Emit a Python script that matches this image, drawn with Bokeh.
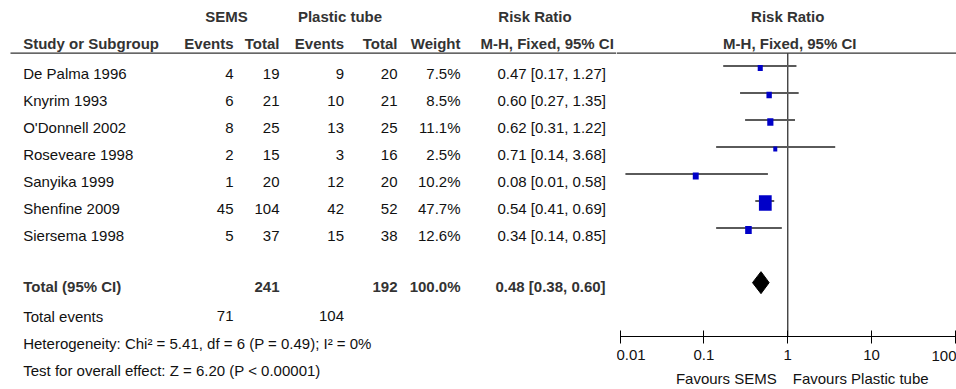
import math
from bokeh.plotting import figure
from bokeh.layouts import row
from bokeh.models import Range1d, FixedTicker
from bokeh.embed import file_html
from bokeh.resources import INLINE
from bokeh.core.properties import value

# ---------------- data ----------------
studies = ["De Palma 1996", "Knyrim 1993", "O'Donnell 2002", "Roseveare 1998",
           "Sanyika 1999", "Shenfine 2009", "Siersema 1998"]
sems_events = [4, 6, 8, 2, 1, 45, 5]
sems_total = [19, 21, 25, 15, 20, 104, 37]
pt_events = [9, 10, 13, 3, 12, 42, 15]
pt_total = [20, 21, 25, 16, 20, 52, 38]
weights = [7.5, 8.5, 11.1, 2.5, 10.2, 47.7, 12.6]
rr = [0.47, 0.60, 0.62, 0.71, 0.08, 0.54, 0.34]
ci_lo = [0.17, 0.27, 0.31, 0.14, 0.0116, 0.41, 0.14]
ci_hi = [1.27, 1.35, 1.22, 3.68, 0.58, 0.69, 0.85]

tot_sems_total = 241
tot_pt_total = 192
tot_weight = 100.0
tot_rr, tot_lo, tot_hi = 0.48, 0.38, 0.60
tot_sems_events = 71
tot_pt_events = 104
chi2, df, p_het, i2 = 5.41, 6, 0.49, 0
z_val = 6.20

tick_values = [0.01, 0.1, 1, 10, 100]
tick_labels = ["0.01", "0.1", "1", "10", "100"]

# ---------------- layout constants ----------------
FONT = "Liberation Sans"
FS = "15px"
C_TXT = "#111111"
C_BOLD = "#333333"
ROW = 27.0          # px per study row
Y0 = 67.5           # px of first marker row
H = 389
W_LEFT = 616
W_RIGHT = 340


def r_of(px):
    return (px - Y0) / ROW


TXT_OFF = 5.5 / ROW
n = len(studies)
mark_r = [float(i) for i in range(n)]
text_r = [i + TXT_OFF for i in range(n)]
line_r = [i - 2.0 / ROW for i in range(n)]
hdr1_r = r_of(16)
hdr2_r = r_of(43.3)
rule_r = r_of(52.7)
tot_mark_r = 7.95
tot_text_r = r_of(286)
ev_r = r_of(315.5)
het_r = r_of(342.7)
test_r = r_of(370)
axis_r = r_of(336)
tick_lab_r = r_of(355.5)
fav_r = r_of(378)


def txt(fig, x, y, texts, align="left", bold=False, x_offset=0):
    fig.text(x=x, y=y, text=texts, text_align=align, text_baseline="middle",
             text_font=value(FONT), text_font_size=FS, x_offset=x_offset,
             text_font_style="bold" if bold else "normal",
             text_color=C_BOLD if bold else C_TXT)


# ---------------- left: table ----------------
left = figure(width=W_LEFT, height=H, x_range=Range1d(0, W_LEFT),
              y_range=Range1d(r_of(H), r_of(0)),
              toolbar_location=None, output_backend="svg", min_border=0,
              x_axis_location=None, y_axis_location=None)
left.grid.visible = False
left.outline_line_color = None

X_STUDY, X_SE, X_ST, X_PE, X_PT, X_W, X_CI = 22.7, 233, 279, 343.5, 397, 460, 497

# header row 1
txt(left, [226], [hdr1_r], ["SEMS"], "center", True)
txt(left, [339.5], [hdr1_r], ["Plastic tube"], "center", True)
txt(left, [534.5], [hdr1_r], ["Risk Ratio"], "center", True)
# header row 2
txt(left, [X_STUDY], [hdr2_r], ["Study or Subgroup"], "left", True)
txt(left, [X_SE, X_ST, X_PE, X_PT, X_W], [hdr2_r] * 5,
    ["Events", "Total", "Events", "Total", "Weight"], "right", True)
txt(left, [480], [hdr2_r], ["M-H, Fixed, 95% CI"], "left", True)
left.segment(x0=[10], x1=[W_LEFT], y0=[rule_r], y1=[rule_r], line_color="#333333", line_width=1.3)

# study rows
txt(left, [X_STUDY] * n, text_r, studies, "left")
txt(left, [X_SE] * n, text_r, [str(v) for v in sems_events], "right")
txt(left, [X_ST] * n, text_r, [str(v) for v in sems_total], "right")
txt(left, [X_PE] * n, text_r, [str(v) for v in pt_events], "right")
txt(left, [X_PT] * n, text_r, [str(v) for v in pt_total], "right")
txt(left, [X_W] * n, text_r, [f"{w:.1f}%" for w in weights], "right")
txt(left, [X_CI] * n, text_r,
    [f"{a:.2f} [{b:.2f}, {c:.2f}]" for a, b, c in zip(rr, ci_lo, ci_hi)], "left")

# total row
txt(left, [X_STUDY], [tot_text_r], ["Total (95% CI)"], "left", True)
txt(left, [X_ST, X_PT, X_W], [tot_text_r] * 3,
    [str(tot_sems_total), str(tot_pt_total), f"{tot_weight:.1f}%"], "right", True)
txt(left, [495], [tot_text_r], [f"{tot_rr:.2f} [{tot_lo:.2f}, {tot_hi:.2f}]"], "left", True)

txt(left, [X_STUDY], [ev_r], ["Total events"], "left")
txt(left, [X_SE, X_PE], [ev_r] * 2, [str(tot_sems_events), str(tot_pt_events)], "right")
txt(left, [X_STUDY], [het_r],
    [f"Heterogeneity: Chi\u00b2 = {chi2:.2f}, df = {df} (P = {p_het:.2f}); I\u00b2 = {i2}%"], "left")
txt(left, [X_STUDY], [test_r],
    [f"Test for overall effect: Z = {z_val:.2f} (P < 0.00001)"], "left")

# ---------------- right: forest plot ----------------
PX0 = 3.5      # px of 0.01 inside right figure
PX1 = 339.0    # px of 100 inside right figure
D = (PX1 - PX0) / 4.0
xs = 10 ** (-2 - PX0 / D)
xe = 10 ** (2 + (W_RIGHT - PX1) / D)
right = figure(width=W_RIGHT, height=H, x_axis_type="log", x_range=Range1d(xs, xe),
               y_range=Range1d(r_of(H), r_of(0)),
               toolbar_location=None, output_backend="svg", min_border=0,
               y_axis_location=None)
right.grid.visible = False
right.outline_line_color = None

ax = right.xaxis[0]
ax.fixed_location = axis_r
ax.ticker = FixedTicker(ticks=tick_values)
ax.bounds = (tick_values[0], tick_values[-1])
ax.major_label_overrides = {t: (lab if t != tick_values[-1] else "")
                            for t, lab in zip(tick_values, tick_labels)}
ax.minor_tick_line_color = None
ax.major_tick_in = 6
ax.major_tick_out = 7
ax.axis_line_color = "black"
ax.major_tick_line_color = "black"
ax.major_label_text_font = FONT
ax.major_label_text_font_size = FS
ax.major_label_text_color = C_TXT
ax.major_label_standoff = 6

# last tick label right-aligned so it stays inside the page
txt(right, [tick_values[-1]], [tick_lab_r], [tick_labels[-1]], "right", x_offset=1)
txt(right, [1], [fav_r], ["Favours SEMS"], "right", x_offset=-11)
txt(right, [1], [fav_r], ["Favours Plastic tube"], "left", x_offset=5)

txt(right, [1], [hdr1_r], ["Risk Ratio"], "center", True)
txt(right, [1], [hdr2_r], ["M-H, Fixed, 95% CI"], "center", True, x_offset=2)
right.segment(x0=[xs], x1=[xe], y0=[rule_r], y1=[rule_r], line_color="#333333", line_width=1.3)
right.segment(x0=[1], x1=[1], y0=[rule_r], y1=[axis_r],
              line_color="#333333", line_width=1.3)

right.segment(x0=ci_lo, x1=ci_hi, y0=line_r, y1=line_r, line_color="#5a5a5a", line_width=2)
sq_w = [max(4.0, 1.85 * math.sqrt(w)) for w in weights]
sq_h = [s * 1.22 for s in sq_w]
right.rect(x=rr, y=mark_r, width=sq_w, height=sq_h, width_units="screen",
           height_units="screen", fill_color="#0000C8", line_color=None)

dh = 11.0 / ROW
right.patch(x=[tot_lo, tot_rr, tot_hi, tot_rr],
            y=[tot_mark_r, tot_mark_r - dh, tot_mark_r, tot_mark_r + dh],
            fill_color="black", line_color="black")

layout = row(left, right)
open("out.html", "w").write(file_html(layout, INLINE))
